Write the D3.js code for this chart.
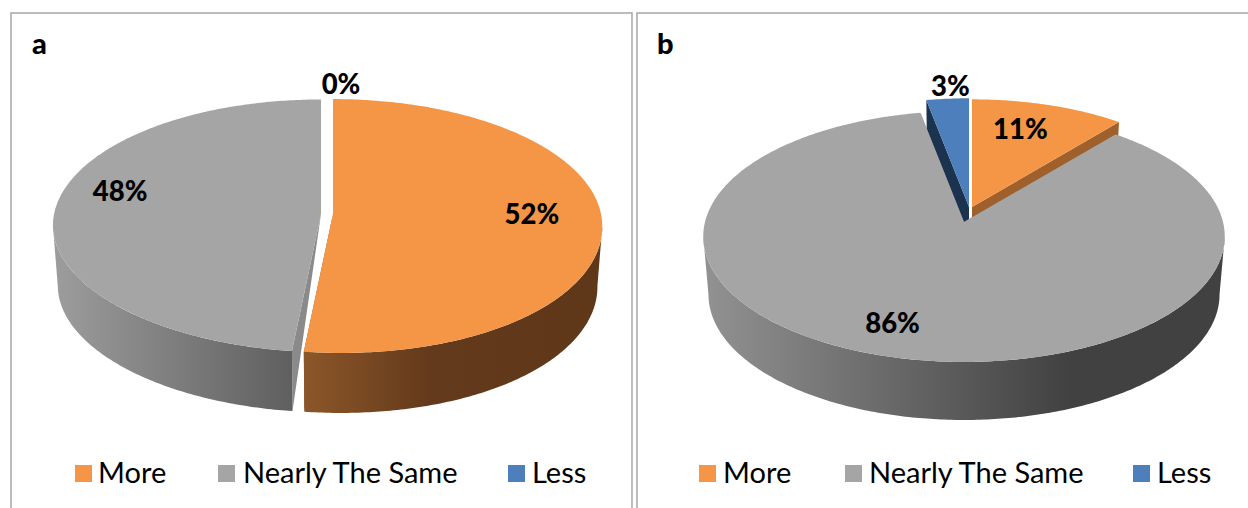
<!DOCTYPE html>
<html>
<head>
<meta charset="utf-8">
<script src="https://cdnjs.cloudflare.com/ajax/libs/d3/7.8.5/d3.min.js"></script>
<style>
  html, body { margin: 0; padding: 0; background: #fff; overflow: hidden; }
  text { font-family: Lato, "Open Sans", sans-serif; fill: #000; }
</style>
</head>
<body>
<script>
// Survey shares shown as two tilted 3D pies.
const categories = ["More", "Nearly The Same", "Less"];
const valuesA = [52, 48, 0];
const valuesB = [11, 86, 3];
const seriesColors = ["#f59646", "#a5a5a5", "#4c7fbb"];
const cutColorsA = ["#8a5528", "#8a8a8a", "#1c3350"];
const cutColorsB = ["#a0602c", "#8a8a8a", "#1c3350"];

const width = 1248, height = 508;
const svg = d3.select("body").append("svg").attr("width", width).attr("height", height);
const defs = svg.append("defs");

// Layout of each panel; `slices` holds the exploded centre and scale per category.
const panels = [
  {
    name: "a", values: valuesA, cuts: cutColorsA,
    frame: [11, 13, 621, 520], title: [32, 54],
    K: 125.8, persp: 0.0945, R: 268, depth: 60, shrink: 0.982, lean: 8, apexDrop: 0,
    slices: [
      { cx: 333, cy: 214, s: 1, ramp: [[306, "#8b5629"], [430, "#633a1b"], [598, "#5f3719"]], label: [0.74, 0, -6] },
      { cx: 321, cy: 214, s: 0.996, ramp: [[57, "#9c9c9c"], [292, "#5f5f5f"]], label: [0.75, -2, -18] },
      { cx: 327, cy: 214, s: 1, ramp: [[300, "#1c3350"], [340, "#1c3350"]], label: [1.12, 14, -3] }
    ],
    legend: [[75, 98], [218, 243], [508, 532]]
  },
  {
    name: "b", values: valuesB, cuts: cutColorsB,
    frame: [637, 13, 640, 520], title: [657, 54],
    K: 123.8, persp: 0.1155, R: 259, depth: 58, shrink: 0.98, lean: 0, apexDrop: 1,
    slices: [
      { cx: 972, cy: 207, s: 0.967, ramp: [[972, "#a0602c"], [1118, "#a0602c"]], label: [0.58, 2, -17] },
      { cx: 964, cy: 222, s: 1, ramp: [[708, "#919191"], [1070, "#414141"], [1220, "#414141"]], label: [0.72, -21, 7] },
      { cx: 969, cy: 207, s: 0.977, ramp: [[925, "#1c3350"], [969, "#1c3350"]], label: [1.12, 5, -2] }
    ],
    legend: [[699, 723], [845, 869], [1133, 1157]]
  }
];

const pieLayout = d3.pie().sort(null).value(d => d);
const pathOf = d3.line().x(d => d[0]).y(d => d[1]);
const drawOrder = [2, 0, 1];

panels.forEach((p, pi) => {
  const g = svg.append("g");
  g.append("rect")
    .attr("x", p.frame[0]).attr("y", p.frame[1])
    .attr("width", p.frame[2]).attr("height", p.frame[3])
    .attr("fill", "#fff").attr("stroke", "#a6a6a6").attr("stroke-width", 1.5);

  g.append("text").attr("x", p.title[0]).attr("y", p.title[1])
    .attr("font-size", 29).attr("font-weight", 900).text(p.name);

  const arcs = pieLayout(p.values);

  // Projects a polar position on the slice's top face into the page.
  const top = (sl, angle, r) => {
    const u = Math.sin(angle) * r, v = -Math.cos(angle) * r;
    const f = 1 / (1 - p.persp * v * sl.s);
    return [
      sl.cx + p.R * sl.s * u * f + p.lean * Math.max(0, v) * v,
      sl.cy + p.K * sl.s * v * f
    ];
  };
  const bottom = (sl, pt) => [sl.cx + (pt[0] - sl.cx) * p.shrink, pt[1] + p.depth];
  const sample = (sl, from, to) => {
    const steps = Math.max(2, Math.ceil((to - from) * 80));
    return d3.range(steps + 1).map(k => top(sl, from + (to - from) * k / steps, 1));
  };

  // The visible wall runs between the two widest points of the rim.
  const silhouette = Math.asin(p.persp);
  const frontFrom = Math.PI / 2 + silhouette, frontTo = 3 * Math.PI / 2 - silhouette;

  drawOrder.forEach(i => {
    const a = arcs[i], sl = p.slices[i];
    if (a.value === 0) return;
    const rim = sample(sl, a.startAngle, a.endAngle);
    const apex = top(sl, 0, 0);
    const apexLow = [apex[0], apex[1] + p.depth * p.apexDrop];

    // Straight cut faces sit behind the curved wall and the top.
    [rim[0], rim[rim.length - 1]].forEach(edge => {
      g.append("path")
        .attr("d", pathOf([apex, edge, bottom(sl, edge), apexLow]) + "Z")
        .attr("fill", p.cuts[i]);
    });

    // Curved outer wall with a left-to-right shading ramp.
    const wallFrom = Math.max(a.startAngle, frontFrom), wallTo = Math.min(a.endAngle, frontTo);
    if (wallTo > wallFrom) {
      const gradId = `wall-${pi}-${i}`;
      const x0 = sl.ramp[0][0], x1 = sl.ramp[sl.ramp.length - 1][0];
      const grad = defs.append("linearGradient").attr("id", gradId)
        .attr("gradientUnits", "userSpaceOnUse")
        .attr("x1", x0).attr("x2", x1).attr("y1", 0).attr("y2", 0);
      sl.ramp.forEach(st => grad.append("stop")
        .attr("offset", (st[0] - x0) / (x1 - x0)).attr("stop-color", st[1]));
      const front = sample(sl, wallFrom, wallTo);
      g.append("path")
        .attr("d", pathOf(front.concat(front.map(q => bottom(sl, q)).reverse())) + "Z")
        .attr("fill", `url(#${gradId})`);
    }

    // Top face.
    g.append("path")
      .attr("d", pathOf([apex].concat(rim)) + "Z")
      .attr("fill", seriesColors[i]);
  });

  // Percentage labels follow each slice's mid angle.
  arcs.forEach((a, i) => {
    const sl = p.slices[i];
    const pos = top(sl, (a.startAngle + a.endAngle) / 2, sl.label[0]);
    g.append("text")
      .attr("x", pos[0] + sl.label[1]).attr("y", pos[1] + sl.label[2])
      .attr("text-anchor", "middle").attr("dominant-baseline", "central")
      .attr("font-size", 27.5).attr("font-weight", 900)
      .text(`${a.value}%`);
  });

  // Legend row.
  categories.forEach((c, i) => {
    const [sx, tx] = p.legend[i];
    g.append("rect").attr("x", sx).attr("y", 465).attr("width", 17).attr("height", 17)
      .attr("fill", seriesColors[i]);
    g.append("text").attr("x", tx).attr("y", 483).attr("font-size", 29).text(c);
  });
});
</script>
</body>
</html>
